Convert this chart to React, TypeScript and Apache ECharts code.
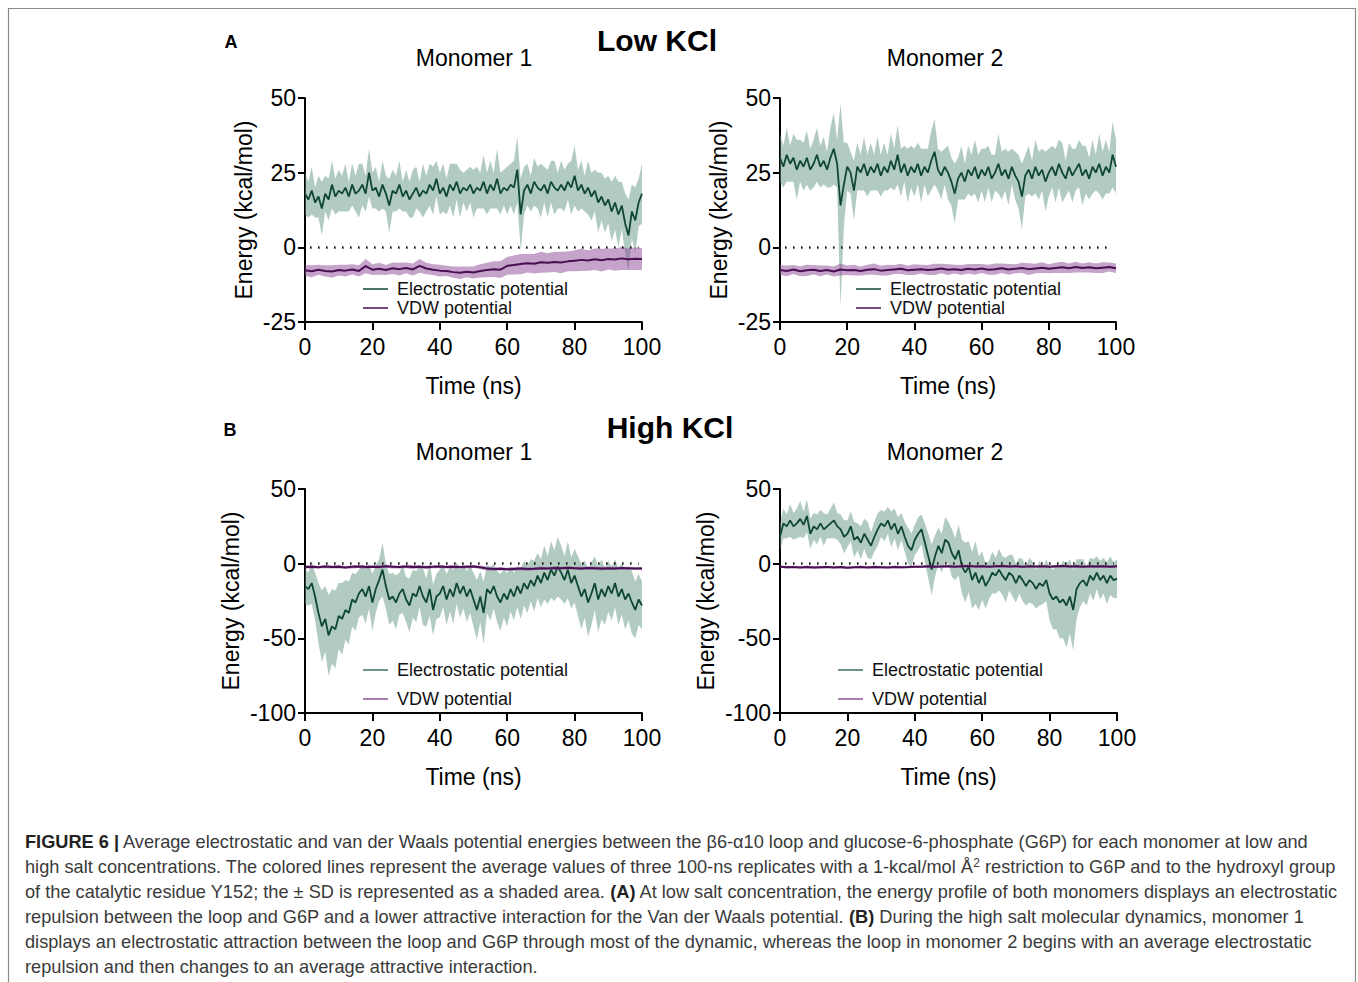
import React, { useEffect, useRef } from "react";
import * as echarts from "echarts";

// ---------- DATA ----------
const TIME_NS = Array.from({ length: 101 }, (_, i) => i); // 0..100 ns, 1 ns step
const TIME_NS_2 = Array.from({ length: 51 }, (_, i) => i * 2); // 0..100 ns, 2 ns step
const X_TICKS = [0, 20, 40, 60, 80, 100];
const Y_TICKS_LOW = [-25, 0, 25, 50];
const Y_TICKS_HIGH = [-100, -50, 0, 50];

// Low KCl, Monomer 1
const lowM1Elec = [
  18, 16, 19, 15, 17, 13, 18, 16, 21, 17, 19, 18, 20, 17, 21, 18, 19, 21, 18, 25,
  19, 20, 17, 21, 18, 14, 19, 18, 21, 17, 19, 16, 18, 20, 17, 19, 18, 21, 19, 23,
  18, 20, 17, 21, 19, 22, 18, 20, 19, 21, 18, 20, 19, 22, 18, 21, 19, 23, 18, 20,
  19, 21, 20, 26, 11, 19, 21, 18, 22, 20, 19, 21, 18, 22, 20, 19, 21, 19, 22, 20,
  24, 19, 21, 18, 20, 17, 19, 15, 17, 14, 16, 12, 15, 11, 14, 8, 4, 12, 9, 15, 18,
];
const lowM1ElecSd = [
  7, 6, 8, 5, 7, 9, 6, 7, 8, 6, 7, 6, 8, 5, 7, 6, 9, 7, 6, 8,
  6, 7, 5, 8, 6, 9, 7, 6, 8, 5, 7, 6, 8, 7, 5, 9, 6, 7, 8, 6,
  7, 8, 6, 7, 9, 6, 8, 5, 7, 6, 8, 7, 6, 9, 7, 8, 6, 10, 7, 6,
  8, 7, 9, 11, 12, 8, 7, 6, 8, 7, 9, 6, 8, 7, 9, 6, 8, 7, 6, 9,
  10, 7, 8, 6, 9, 8, 7, 10, 8, 9, 8, 10, 9, 11, 8, 10, 12, 9, 11, 8, 10,
];
const lowM1Vdw = [
  -7.7, -8.0, -7.5, -7.9, -8.1, -7.6, -7.8, -7.4, -7.9, -6.3,
  -7.5, -7.2, -7.6, -7.0, -7.3, -6.9, -7.4, -6.2, -7.1, -7.5,
  -7.8, -7.9, -8.3, -8.5, -8.2, -8.4, -7.9, -7.6, -7.3, -7.5,
  -6.2, -5.9, -5.6, -5.3, -5.5, -5.0, -5.2, -4.9, -5.1, -4.7,
  -4.5, -4.2, -4.4, -4.0, -4.3, -3.9, -4.1, -3.7, -4.0, -3.8, -3.9,
];
const lowM1VdwSd = [
  1.8, 2.0, 1.7, 1.9, 2.1, 1.8, 2.0, 1.7, 1.9, 2.4,
  1.8, 2.0, 1.7, 1.9, 2.1, 1.8, 2.0, 2.3, 1.9, 1.8,
  2.0, 1.7, 1.9, 2.1, 1.8, 2.0, 2.2, 2.4, 2.6, 2.8,
  3.0, 3.2, 3.4, 3.1, 3.3, 3.5, 3.2, 3.4, 3.6, 3.3,
  3.5, 3.7, 3.4, 3.6, 3.8, 3.5, 3.7, 3.9, 3.6, 3.8, 3.7,
];

// Low KCl, Monomer 2
const lowM2Elec = [
  30, 27, 31, 28, 30, 26, 29, 27, 30, 26, 28, 31, 27, 29, 26, 30, 33, 28, 14, 21,
  27, 25, 19, 27, 25, 28, 24, 27, 25, 28, 24, 27, 25, 29, 26, 31, 25, 28, 24, 27,
  25, 28, 24, 27, 25, 29, 32, 26, 24, 27, 25, 22, 18, 23, 25, 22, 26, 24, 27, 23,
  26, 24, 27, 23, 25, 28, 24, 26, 23, 27, 24, 22, 17, 24, 26, 23, 27, 24, 26, 22,
  25, 27, 24, 28, 25, 23, 27, 24, 26, 28, 24, 26, 23, 27, 25, 28, 24, 27, 25, 31, 27,
];
const lowM2ElecSd = [
  8, 7, 9, 6, 8, 10, 7, 8, 9, 7, 8, 9, 7, 8, 6, 10, 12, 8, 34, 14,
  8, 7, 10, 8, 6, 9, 7, 8, 6, 9, 7, 8, 6, 9, 7, 10, 8, 6, 9, 7,
  8, 7, 9, 6, 8, 10, 11, 7, 8, 6, 9, 8, 10, 7, 9, 6, 8, 7, 9, 8,
  7, 9, 7, 8, 6, 10, 8, 7, 9, 6, 8, 9, 11, 7, 8, 6, 9, 8, 7, 10,
  8, 7, 9, 8, 10, 6, 8, 9, 7, 8, 10, 8, 7, 9, 6, 10, 8, 9, 7, 11, 9,
];
const lowM2Vdw = [
  -7.6, -7.9, -7.4, -8.0, -7.7, -7.5, -7.9, -7.6, -8.1, -7.4,
  -7.7, -7.6, -7.9, -7.5, -7.3, -7.8, -7.6, -7.4, -7.2, -7.7,
  -7.5, -7.3, -7.6, -7.4, -7.1, -7.5, -7.3, -7.6, -7.2, -7.4,
  -7.1, -7.5, -7.3, -7.0, -7.4, -7.2, -6.9, -7.3, -7.1, -6.8,
  -7.2, -6.9, -6.7, -7.0, -6.6, -6.9, -6.7, -7.0, -6.8, -6.6, -7.0,
];
const lowM2VdwSd = [
  1.6, 1.8, 1.5, 1.7, 1.9, 1.6, 1.8, 1.5, 1.7, 2.0,
  1.6, 1.8, 1.5, 1.7, 1.9, 1.6, 1.8, 1.5, 1.7, 1.6,
  1.8, 1.5, 1.7, 1.9, 1.6, 1.8, 1.5, 1.7, 1.6, 1.8,
  1.5, 1.7, 1.9, 1.6, 1.8, 1.5, 1.7, 2.0, 1.6, 1.8,
  1.5, 1.7, 1.9, 1.6, 1.8, 1.5, 1.7, 1.6, 1.8, 1.5, 1.6,
];

// High KCl, Monomer 1
const highM1Elec = [
  -15, -17, -13, -22, -33, -42, -37, -48, -42, -44, -35, -37, -31, -33, -24, -26, -20, -17, -22, -15,
  -26, -17, -11, -4, -15, -24, -22, -26, -20, -17, -24, -28, -20, -22, -15, -22, -26, -17, -31, -22,
  -20, -15, -24, -17, -22, -13, -20, -15, -22, -17, -24, -31, -22, -33, -17, -20, -15, -22, -26, -20,
  -24, -17, -22, -15, -20, -13, -17, -11, -15, -8, -13, -6, -11, -4, -8, -2, -6, -11, -4, -13,
  -8, -15, -22, -17, -26, -20, -13, -24, -17, -22, -15, -20, -13, -22, -17, -24, -20, -26, -31, -24, -28,
];
const highM1ElecSd = [
  12, 11, 14, 16, 20, 24, 22, 27, 25, 26, 22, 24, 20, 21, 18, 19, 16, 17, 18, 15,
  19, 16, 14, 18, 15, 17, 16, 18, 14, 16, 15, 18, 16, 17, 14, 19, 16, 18, 17, 15,
  16, 14, 17, 15, 18, 14, 16, 15, 17, 16, 18, 20, 17, 21, 16, 18, 15, 17, 19, 16,
  18, 15, 16, 14, 17, 15, 16, 14, 17, 15, 16, 18, 16, 19, 17, 20, 18, 16, 19, 17,
  18, 20, 22, 19, 23, 21, 18, 22, 20, 19, 17, 18, 16, 19, 17, 20, 18, 21, 19, 17, 16,
];
const highM1Vdw = [
  -2.3, -2.0, -2.4, -1.9, -2.2, -2.0, -2.5, -2.1, -1.9, -2.3,
  -2.0, -2.2, -1.8, -2.1, -2.3, -1.9, -2.2, -2.0, -2.4, -2.1,
  -1.9, -2.2, -2.0, -2.3, -2.1, -1.9, -2.4, -3.2, -3.6, -3.4,
  -3.7, -3.5, -3.3, -3.6, -3.4, -3.0, -3.2, -2.9, -3.1, -2.8,
  -3.0, -3.2, -2.9, -3.1, -3.3, -3.0, -3.2, -2.9, -3.1, -3.3, -3.2,
];
const highM1VdwSd = [
  1.0, 1.2, 0.9, 1.1, 1.0, 1.3, 0.9, 1.1, 1.0, 1.2,
  0.9, 1.1, 1.0, 1.2, 0.9, 1.1, 1.3, 1.0, 1.2, 0.9,
  1.1, 1.0, 1.2, 0.9, 1.1, 1.0, 1.2, 1.3, 1.1, 1.2,
  1.0, 1.3, 1.1, 1.2, 1.0, 1.1, 0.9, 1.2, 1.0, 1.1,
  0.9, 1.2, 1.0, 1.1, 1.3, 1.0, 1.2, 0.9, 1.1, 1.0, 1.1,
];

// High KCl, Monomer 2
const highM2Elec = [
  18, 27, 25, 29, 25, 27, 30, 26, 32, 20, 25, 23, 27, 23, 25, 27, 29, 25, 23, 18,
  20, 25, 16, 18, 14, 20, 16, 12, 18, 23, 27, 25, 29, 23, 27, 20, 25, 18, 12, 9,
  16, 20, 23, 14, 5, -4, 5, 12, 7, 16, 14, 7, 3, 9, -2, -6, -2, -11, -6, -13,
  -8, -15, -11, -6, -8, -4, -8, -11, -6, -8, -13, -8, -11, -15, -11, -13, -17, -13, -15, -11,
  -20, -24, -22, -26, -24, -28, -22, -31, -17, -13, -11, -15, -8, -11, -6, -11, -8, -13, -8, -11, -10,
];
const highM2ElecSd = [
  9, 10, 8, 11, 9, 10, 12, 9, 11, 10, 9, 10, 9, 11, 8, 10, 12, 9, 10, 11,
  9, 10, 12, 9, 11, 10, 12, 9, 10, 11, 9, 10, 9, 12, 10, 11, 9, 10, 12, 11,
  10, 11, 10, 13, 15, 17, 14, 12, 13, 15, 14, 16, 14, 17, 18, 20, 17, 19, 21, 18,
  16, 15, 13, 14, 12, 14, 13, 15, 12, 14, 13, 12, 14, 13, 15, 14, 13, 15, 12, 14,
  18, 20, 22, 24, 26, 28, 25, 27, 20, 16, 14, 13, 12, 14, 11, 13, 12, 14, 13, 12, 13,
];
const highM2Vdw = [
  -2.0, -2.4, -2.2, -2.5, -2.3, -2.6, -2.4, -2.2, -2.5, -2.3,
  -2.7, -2.4, -2.2, -2.5, -2.3, -2.4, -2.6, -2.2, -2.4, -2.3,
  -2.1, -2.0, -1.8, -2.1, -1.9, -1.7, -2.0, -1.8, -1.6, -1.9,
  -1.7, -2.0, -1.8, -1.6, -1.9, -1.7, -2.0, -1.8, -1.9, -1.7,
  -2.0, -1.8, -1.6, -1.9, -1.7, -2.0, -1.8, -1.9, -1.7, -2.0, -1.8,
];
const highM2VdwSd = [
  0.8, 0.9, 0.7, 0.8, 1.0, 0.8, 0.9, 0.7, 0.8, 0.9,
  0.8, 0.7, 0.9, 0.8, 1.0, 0.8, 0.7, 0.9, 0.8, 0.9,
  0.7, 0.8, 0.9, 0.8, 0.7, 0.9, 0.8, 1.0, 0.8, 0.7,
  0.9, 0.8, 0.7, 0.9, 0.8, 1.0, 0.8, 0.7, 0.9, 0.8,
  0.7, 0.9, 0.8, 0.8, 0.9, 0.7, 0.8, 0.9, 0.8, 0.7, 0.8,
];

const ZERO_LINE_RANGE = [1.5, 99];

const CAPTION_LINES = [
  "{b|FIGURE 6 |}{n| Average electrostatic and van der Waals potential energies between the β6-α10 loop and glucose-6-phosphate (G6P) for each monomer at low and}",
  "{n|high salt concentrations. The colored lines represent the average values of three 100-ns replicates with a 1-kcal/mol Å}{sup|2}{n| restriction to G6P and to the hydroxyl group}",
  "{n|of the catalytic residue Y152; the ± SD is represented as a shaded area. }{b|(A)}{n| At low salt concentration, the energy profile of both monomers displays an electrostatic}",
  "{n|repulsion between the loop and G6P and a lower attractive interaction for the Van der Waals potential. }{b|(B)}{n| During the high salt molecular dynamics, monomer 1}",
  "{n|displays an electrostatic attraction between the loop and G6P through most of the dynamic, whereas the loop in monomer 2 begins with an average electrostatic}",
  "{n|repulsion and then changes to an average attractive interaction.}",
];

// ---------- STYLE ----------
const FONT = "'Liberation Sans', Arial, Helvetica, sans-serif";
const ELEC_LINE = "#0f4733";
const ELEC_BAND = "rgba(100,152,131,0.5)";
const VDW_LINE = "#4a0e52";
const VDW_BAND = "rgba(140,72,150,0.5)";

function bandSeries(
  key: string,
  gi: number,
  times: number[],
  mean: number[],
  sd: number[],
  band: string,
  line: string,
  width: number,
  name: string,
  zBase: number,
  withZero: boolean
) {
  const lo = mean.map((m, k) => m - sd[k]);
  const hi = mean.map((m, k) => m + sd[k]);
  const area = {
    type: "custom",
    name: key + "-sd",
    coordinateSystem: "cartesian2d",
    xAxisIndex: gi,
    yAxisIndex: gi,
    silent: true,
    clip: true,
    z: zBase,
    encode: { x: 0, y: [1, 2] },
    data: times.map((t, k) => [t, lo[k], hi[k]]),
    renderItem: (params: any, api: any) => {
      if (params.dataIndex !== 0) return null;
      const pts: number[][] = [];
      for (let k = 0; k < times.length; k++) pts.push(api.coord([times[k], hi[k]]));
      for (let k = times.length - 1; k >= 0; k--) pts.push(api.coord([times[k], lo[k]]));
      return {
        type: "polygon",
        shape: { points: pts },
        style: { fill: band, stroke: "none" },
      };
    },
  };
  const mn: any = {
    type: "line",
    name,
    xAxisIndex: gi,
    yAxisIndex: gi,
    data: times.map((t, k) => [t, mean[k]]),
    symbol: "none",
    silent: true,
    lineStyle: { color: line, width },
    itemStyle: { color: line },
    z: zBase + 1,
  };
  if (withZero) {
    mn.markLine = {
      silent: true,
      symbol: "none",
      label: { show: false },
      lineStyle: { type: [1.5, 6.5], color: "#111", width: 2.5, cap: "butt" },
      data: [[{ coord: [ZERO_LINE_RANGE[0], 0] }, { coord: [ZERO_LINE_RANGE[1], 0] }]],
      z: 10,
    };
  }
  return [area, mn];
}

function makeAxes(gi: number, ticks: number[], nameGapY: number) {
  const xAxis = {
    type: "value",
    gridIndex: gi,
    min: X_TICKS[0],
    max: X_TICKS[X_TICKS.length - 1],
    interval: X_TICKS[1] - X_TICKS[0],
    axisLine: { show: true, onZero: false, lineStyle: { color: "#000", width: 2 } },
    axisTick: { show: true, length: 8, lineStyle: { color: "#000", width: 2 } },
    axisLabel: { fontSize: 23, color: "#000", fontFamily: FONT, margin: 13 },
    splitLine: { show: false },
    name: "Time (ns)",
    nameLocation: "middle",
    nameGap: 52,
    nameTextStyle: { fontSize: 23, color: "#000", fontFamily: FONT },
  };
  const yAxis = {
    type: "value",
    gridIndex: gi,
    min: ticks[0],
    max: ticks[ticks.length - 1],
    interval: ticks[1] - ticks[0],
    axisLine: { show: true, onZero: false, lineStyle: { color: "#000", width: 2 } },
    axisTick: { show: true, length: 7, lineStyle: { color: "#000", width: 2 } },
    axisLabel: { fontSize: 23, color: "#000", fontFamily: FONT, margin: 9 },
    splitLine: { show: false },
    name: "Energy (kcal/mol)",
    nameLocation: "middle",
    nameGap: nameGapY,
    nameRotate: 90,
    nameTextStyle: { fontSize: 23, color: "#000", fontFamily: FONT },
  };
  return { xAxis, yAxis };
}

function makeLegend(left: number, top: number, gap: number, elecColor: string, vdwColor: string) {
  return {
    left,
    top,
    orient: "vertical",
    icon: "rect",
    itemWidth: 25,
    itemHeight: 1.5,
    itemGap: gap,
    selectedMode: false,
    textStyle: { fontSize: 18, color: "#111", fontFamily: FONT, padding: [0, 0, 0, 4] },
    data: [
      { name: "Electrostatic potential", itemStyle: { color: elecColor } },
      { name: "VDW potential", itemStyle: { color: vdwColor } },
    ],
  };
}

function text(x: number, y: number, s: string, size: number, bold: boolean, align = "center") {
  return {
    type: "text",
    x,
    y,
    silent: true,
    style: {
      text: s,
      fontSize: size,
      fontWeight: bold ? "bold" : "normal",
      fontFamily: FONT,
      fill: "#000",
      textAlign: align,
      textVerticalAlign: "middle",
      verticalAlign: "middle",
    },
  };
}

export default function App() {
  const ref = useRef<HTMLDivElement>(null);
  useEffect(() => {
    if (!ref.current) return;
    const chart = echarts.init(ref.current, undefined, { renderer: "svg" });

    const axes = [
      makeAxes(0, Y_TICKS_LOW, 50),
      makeAxes(1, Y_TICKS_LOW, 50),
      makeAxes(2, Y_TICKS_HIGH, 63),
      makeAxes(3, Y_TICKS_HIGH, 63),
    ];

    const series = [
      ...bandSeries("a1e", 0, TIME_NS, lowM1Elec, lowM1ElecSd, ELEC_BAND, ELEC_LINE, 1.8, "Electrostatic potential", 2, true),
      ...bandSeries("a1v", 0, TIME_NS_2, lowM1Vdw, lowM1VdwSd, VDW_BAND, VDW_LINE, 2, "VDW potential", 4, false),
      ...bandSeries("a2e", 1, TIME_NS, lowM2Elec, lowM2ElecSd, ELEC_BAND, ELEC_LINE, 1.8, "Electrostatic potential", 2, true),
      ...bandSeries("a2v", 1, TIME_NS_2, lowM2Vdw, lowM2VdwSd, VDW_BAND, VDW_LINE, 2, "VDW potential", 4, false),
      ...bandSeries("b1e", 2, TIME_NS, highM1Elec, highM1ElecSd, ELEC_BAND, ELEC_LINE, 1.8, "Electrostatic potential", 2, true),
      ...bandSeries("b1v", 2, TIME_NS_2, highM1Vdw, highM1VdwSd, VDW_BAND, VDW_LINE, 2, "VDW potential", 4, false),
      ...bandSeries("b2e", 3, TIME_NS, highM2Elec, highM2ElecSd, ELEC_BAND, ELEC_LINE, 1.8, "Electrostatic potential", 2, true),
      ...bandSeries("b2v", 3, TIME_NS_2, highM2Vdw, highM2VdwSd, VDW_BAND, VDW_LINE, 2, "VDW potential", 4, false),
    ];

    const captionGraphics = CAPTION_LINES.map((line, i) => ({
      type: "text",
      x: 25,
      y: 842 + i * 25,
      silent: true,
      style: {
        text: line,
        fontSize: 18.2,
        fontFamily: FONT,
        fill: "#333",
        textAlign: "left",
        textVerticalAlign: "middle",
        verticalAlign: "middle",
        rich: {
          n: { fontSize: 18.2, fontFamily: FONT, fill: "#3a3a3a", lineHeight: 21 },
          b: { fontSize: 18.2, fontFamily: FONT, fill: "#222", fontWeight: "bold", lineHeight: 21 },
          sup: { fontSize: 12, fontFamily: FONT, fill: "#3a3a3a", verticalAlign: "top", lineHeight: 21 },
        },
      },
    }));

    const option: any = {
      animation: false,
      backgroundColor: "#fff",
      textStyle: { fontFamily: FONT },
      grid: [
        { left: 305, top: 98, width: 337, height: 224 },
        { left: 780, top: 98, width: 336, height: 224 },
        { left: 305, top: 489, width: 337, height: 224 },
        { left: 780, top: 489, width: 337, height: 224 },
      ],
      xAxis: axes.map((a) => a.xAxis),
      yAxis: axes.map((a) => a.yAxis),
      legend: [
        makeLegend(358, 275, 1, ELEC_LINE, VDW_LINE),
        makeLegend(851, 275, 1, ELEC_LINE, VDW_LINE),
        makeLegend(358, 656, 11, "#3f6f5e", "#8a5696"),
        makeLegend(833, 656, 11, "#3f6f5e", "#8a5696"),
      ],
      series,
      graphic: [
        {
          type: "rect",
          silent: true,
          shape: { x: 8.5, y: 8.5, width: 1347, height: 1000 },
          style: { fill: "none", stroke: "#8a8a8a", lineWidth: 1.2 },
          z: -10,
        },
        text(231, 42, "A", 18, true),
        text(657, 40, "Low KCl", 30, true),
        text(474, 58, "Monomer 1", 23, false),
        text(945, 58, "Monomer 2", 23, false),
        text(230, 430, "B", 18, true),
        text(670, 427, "High KCl", 30, true),
        text(474, 452, "Monomer 1", 23, false),
        text(945, 452, "Monomer 2", 23, false),
        ...captionGraphics,
      ],
    };

    chart.setOption(option);
    return () => chart.dispose();
  }, []);

  return (
    <div
      ref={ref}
      style={{ position: "fixed", left: 0, top: 0, width: 1358, height: 982, background: "#fff" }}
    />
  );
}
